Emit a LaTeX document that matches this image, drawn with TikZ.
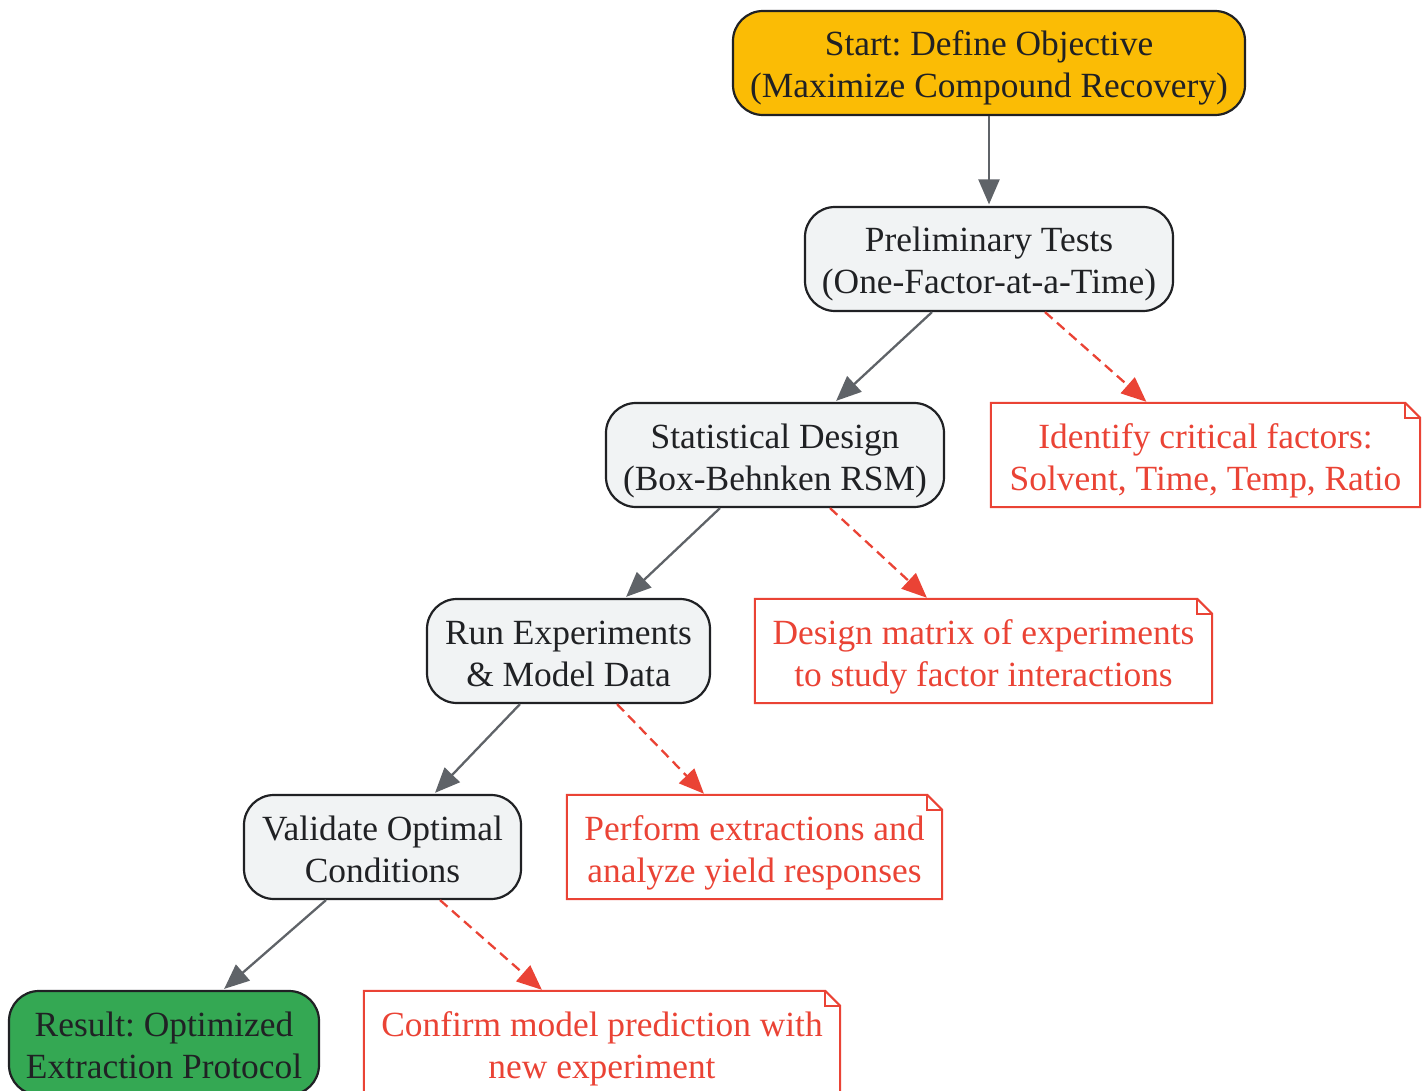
\documentclass[tikz,border=0pt]{standalone}
\usepackage{fontspec}
\setmainfont{Liberation Serif}
\frenchspacing
\usetikzlibrary{calc,arrows.meta}
\definecolor{ink}{HTML}{202124}
\definecolor{boxfill}{HTML}{F1F3F4}
\definecolor{amber}{HTML}{FBBC05}
\definecolor{leaf}{HTML}{34A853}
\definecolor{redd}{HTML}{EA4335}
\definecolor{edgegray}{HTML}{5F6368}
\tikzset{
  txt/.style={align=center, inner sep=0pt, text height=78pt, text depth=8pt,
    font=\fontsize{35.4}{42}\selectfont, minimum height=104pt},
  stepbox/.style={txt, draw=ink, line width=2.2pt, rounded corners=30pt, fill=boxfill, text=ink},
  notebox/.style={txt, draw=none, text=redd},
  noteline/.style={draw=redd, line width=2pt},
  flow/.style={draw=edgegray, line width=2.3pt, shorten >=1.5pt, -{Triangle[length=25pt,width=21pt]}},
  hint/.style={draw=redd, line width=2.3pt, shorten >=1.5pt, dash pattern=on 10pt off 6pt, -{Triangle[length=25pt,width=21pt]}},
}
\newcommand{\foldnote}[1]{%
  \draw[noteline] (#1.south west) -- (#1.north west) -- ([xshift=-15pt]#1.north east)
    -- ([yshift=-15pt]#1.north east) -- (#1.south east) -- cycle;
  \draw[noteline] ([xshift=-15pt]#1.north east) -- ([xshift=-15pt,yshift=-15pt]#1.north east)
    -- ([yshift=-15pt]#1.north east);}
\begin{document}
\begin{tikzpicture}[x=1pt,y=-1pt]
\useasboundingbox (0,0) rectangle (1428,1091);
\node[stepbox, fill=amber, minimum width=512pt] (start) at (989,63)
  {Start: Define Objective\\(Maximize Compound Recovery)};
\node[stepbox, minimum width=368pt] (prelim) at (989,259)
  {Preliminary Tests\\(One-Factor-at-a-Time)};
\node[stepbox, minimum width=338pt] (stat) at (775,455)
  {Statistical Design\\(Box-Behnken RSM)};
\node[stepbox, minimum width=283pt] (run) at (568.5,651)
  {Run Experiments\\\& Model Data};
\node[stepbox, minimum width=277pt] (valid) at (382.5,847)
  {Validate Optimal\\Conditions};
\node[stepbox, fill=leaf, minimum width=310pt] (result) at (164,1043)
  {Result: Optimized\\Extraction Protocol};

\node[notebox, minimum width=429pt] (n1) at (1205.5,455)
  {Identify critical factors:\\Solvent, Time, Temp, Ratio};
\node[notebox, minimum width=457pt] (n2) at (983.5,651)
  {Design matrix of experiments\\to study factor interactions};
\node[notebox, minimum width=375pt] (n3) at (754.5,847)
  {Perform extractions and\\analyze yield responses};
\node[notebox, minimum width=476pt] (n4) at (602,1043)
  {Confirm model prediction with\\new experiment};
\foldnote{n1}
\foldnote{n2}
\foldnote{n3}
\foldnote{n4}

\draw[flow] (start.south) -- (prelim.north);
\draw[flow] ($(prelim.south)+(-57,0)$) -- ($(stat.north)+(60,0)$);
\draw[hint] ($(prelim.south)+(56,0)$) -- ($(n1.north)+(-58,0)$);
\draw[flow] ($(stat.south)+(-55,0)$) -- ($(run.north)+(56.5,0)$);
\draw[hint] ($(stat.south)+(55,0)$) -- ($(n2.north)+(-55.5,0)$);
\draw[flow] ($(run.south)+(-48.5,0)$) -- ($(valid.north)+(51.5,0)$);
\draw[hint] ($(run.south)+(48.5,0)$) -- ($(n3.north)+(-49.5,0)$);
\draw[flow] ($(valid.south)+(-56.5,0)$) -- ($(result.north)+(59,0)$);
\draw[hint] ($(valid.south)+(57.5,0)$) -- ($(n4.north)+(-59,0)$);
\end{tikzpicture}
\end{document}
